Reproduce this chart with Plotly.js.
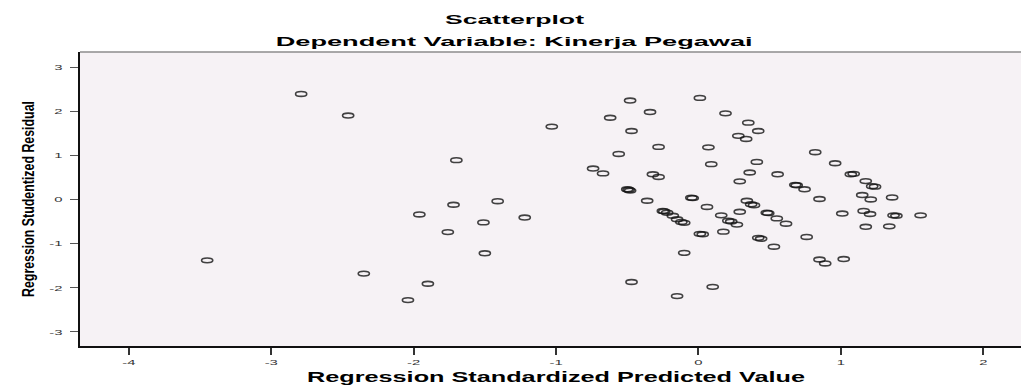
<!DOCTYPE html>
<html><head><meta charset="utf-8">
<script src="https://cdn.plot.ly/plotly-3.0.1.min.js"></script>
<style>html,body{margin:0;padding:0;background:#fff;}#chart{width:1021px;height:385px;}</style>
</head><body><div id="chart"></div>
<script>
const chartTitle = 'Scatterplot';
const chartSubtitle = 'Dependent Variable: Kinerja Pegawai';
const xTitle = 'Regression Standardized Predicted Value';
const yTitle = 'Regression Studentized Residual';
const xTickValues = [-4, -3, -2, -1, 0, 1, 2];
const yTickValues = [-3, -2, -1, 0, 1, 2, 3];

const predictedValue = [
  -3.45, -2.79, -2.46, -2.35, -2.04, -1.96, -1.90, -1.76, -1.72, -1.70,
  -1.51, -1.50, -1.41, -1.22, -1.03,
  -0.74, -0.67, -0.62, -0.56, -0.50, -0.48, -0.49, -0.48, -0.47, -0.47,
  -0.36, -0.34, -0.32, -0.28, -0.28, -0.25, -0.24, -0.22, -0.18, -0.15,
  -0.12, -0.10, -0.10, -0.15, -0.05, -0.04, 0.01, 0.01, 0.03, 0.06,
  0.07, 0.09, 0.10, 0.16, 0.175, 0.19, 0.21, 0.23, 0.27, 0.29,
  0.29, 0.28, 0.335, 0.34, 0.35, 0.36, 0.37, 0.39, 0.41, 0.42,
  0.42, 0.44, 0.48, 0.49, 0.53, 0.55, 0.556, 0.615, 0.68, 0.69,
  0.745, 0.76, 0.82, 0.85, 0.85, 0.89, 0.96, 1.01, 1.02, 1.07,
  1.09, 1.15, 1.16, 1.175, 1.175, 1.21, 1.205, 1.22, 1.24, 1.34,
  1.36, 1.37, 1.39, 1.56
];
const studentizedResidual = [
  -1.38, 2.39, 1.90, -1.68, -2.28, -0.34, -1.91, -0.74, -0.12, 0.89,
  -0.52, -1.22, -0.04, -0.41, 1.65,
  0.70, 0.59, 1.85, 1.03, 0.23, 0.20, 0.22, 2.24, 1.55, -1.87,
  -0.03, 1.98, 0.57, 0.51, 1.19, -0.26, -0.27, -0.30, -0.37, -0.45,
  -0.51, -0.53, -1.21, -2.19, 0.04, 0.03, 2.30, -0.78, -0.79, -0.17,
  1.18, 0.80, -1.98, -0.36, -0.73, 1.95, -0.48, -0.50, -0.57, -0.28,
  0.41, 1.44, 1.37, -0.03, 1.74, 0.61, -0.11, -0.13, 0.85, 1.55,
  -0.87, -0.89, -0.30, -0.31, -1.07, -0.43, 0.57, -0.55, 0.33, 0.32,
  0.23, -0.85, 1.07, 0.01, -1.36, -1.45, 0.82, -0.32, -1.35, 0.57,
  0.58, 0.10, -0.26, 0.415, -0.62, 0.00, -0.33, 0.30, 0.29, -0.61,
  0.045, -0.36, -0.37, -0.36
];

const FONT = 'Liberation Sans, Arial, Helvetica, sans-serif';

const data = [{
  type: 'scatter',
  mode: 'markers',
  x: predictedValue,
  y: studentizedResidual,
  marker: {
    symbol: 'circle',
    size: 7,
    color: 'rgba(0,0,0,0)',
    line: {color: 'rgba(20,20,20,0.8)', width: 1.6}
  },
  hoverinfo: 'x+y'
}];

const layout = {
  width: 1021,
  height: 385,
  margin: {l: 80, r: 0, t: 52, b: 39, pad: 0},
  paper_bgcolor: '#ffffff',
  plot_bgcolor: '#F6F2F5',
  showlegend: false,
  font: {family: FONT, color: '#000'},
  title: {
    text: chartTitle,
    font: {family: FONT, size: 13, color: '#000', weight: 'bold'},
    x: 514.5 / 1021, xanchor: 'center', xref: 'container',
    y: 1 - 19 / 385, yanchor: 'middle', yref: 'container'
  },
  annotations: [{
    text: chartSubtitle,
    showarrow: false,
    xref: 'paper', yref: 'paper',
    x: (513.5 - 80) / 941, xanchor: 'center',
    y: (345.7 - 42) / 293.7, yanchor: 'middle',
    font: {family: FONT, size: 13, color: '#000', weight: 'bold'}
  }],
  shapes: [{
    type: 'line', xref: 'paper', yref: 'paper',
    x0: 0, x1: 1, y0: 1, y1: 1,
    line: {color: '#8c8c8c', width: 1.5}
  }],
  xaxis: {
    range: [-4.343, 2.265],
    tickmode: 'array',
    tickvals: xTickValues,
    ticktext: xTickValues.map(String),
    ticks: 'outside', ticklen: 7, tickwidth: 2, tickcolor: '#333',
    ticklabelstandoff: 0,
    showline: true, linecolor: '#111', linewidth: 2,
    showgrid: false, zeroline: false,
    tickfont: {family: FONT, size: 8, color: '#333'},
    title: {text: xTitle, font: {family: FONT, size: 15, color: '#000', weight: 'bold'}, standoff: 11}
  },
  yaxis: {
    range: [-3.32, 3.34],
    tickmode: 'array',
    tickvals: yTickValues,
    ticktext: yTickValues.map(String),
    ticks: 'outside', ticklen: 8, tickwidth: 1, tickcolor: '#555',
    ticklabelstandoff: 6,
    showline: true, linecolor: '#111', linewidth: 2,
    showgrid: false, zeroline: false,
    tickfont: {family: FONT, size: 8, color: '#333'},
    title: {text: yTitle, font: {family: FONT, size: 17, color: '#000', weight: 'bold'}, standoff: 16}
  }
};

Plotly.newPlot('chart', data, layout, {staticPlot: true, displayModeBar: false}).then(function () {
  function stretch(el, len) {
    el.setAttribute('textLength', len);
    el.setAttribute('lengthAdjust', 'spacingAndGlyphs');
  }
  document.querySelectorAll('.xtick text, .ytick text').forEach(function (t) {
    stretch(t, t.getComputedTextLength() * 1.85);
  });
  const gt = document.querySelector('.gtitle');
  if (gt) stretch(gt, 139);
  const an = document.querySelector('.annotation-text');
  if (an) stretch(an, 477);
  const xt = document.querySelector('.xtitle');
  if (xt) { stretch(xt, 498); xt.setAttribute('x', 556); }
  const yt = document.querySelector('.ytitle');
  if (yt) stretch(yt, 196);
  const ellipse = 'M5.6,0A5.6,2.4 0 1,1 0,-2.4A5.6,2.4 0 0,1 5.6,0Z';
  document.querySelectorAll('.scatterlayer path.point').forEach(function (p) {
    p.setAttribute('d', ellipse);
  });
});
</script>
</body></html>
